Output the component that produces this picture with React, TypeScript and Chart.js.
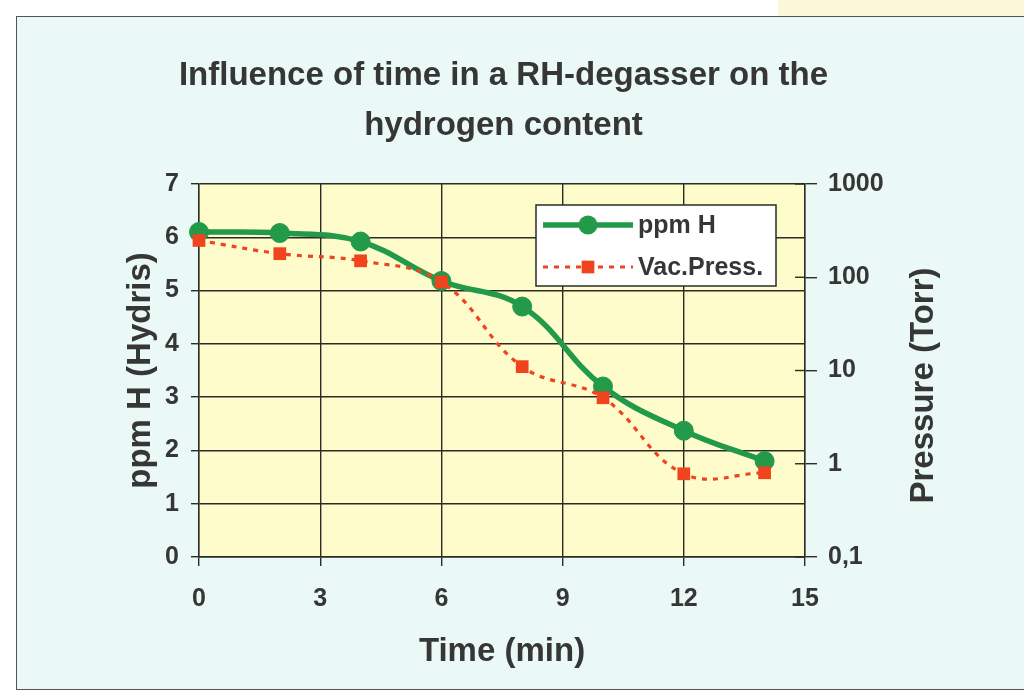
import React, { useEffect, useRef } from 'react';
import { Chart, registerables } from 'chart.js';

Chart.register(...registerables);

// ---- data ----
const CHART_TITLE = ['Influence of time in a RH-degasser on the', 'hydrogen content'];
const X_AXIS_TITLE = 'Time (min)';
const LEFT_AXIS_TITLE = 'ppm H (Hydris)';
const RIGHT_AXIS_TITLE = 'Pressure (Torr)';

const SERIES_NAMES = ['ppm H', 'Vac.Press.'];
const TIME_MIN = [0, 2, 4, 6, 8, 10, 12, 14];
const PPM_H = [6.1, 6.08, 5.92, 5.18, 4.7, 3.2, 2.37, 1.8];
const VAC_PRESS_TORR = [248, 179, 150, 89, 11, 5.1, 0.78, 0.8];

const X_TICKS = [0, 3, 6, 9, 12, 15];
const LEFT_TICKS = [0, 1, 2, 3, 4, 5, 6, 7];
const RIGHT_TICKS = [0.1, 1, 10, 100, 1000];
const RIGHT_TICK_LABELS = ['0,1', '1', '10', '100', '1000'];

// ---- style ----
const FONT = "'Liberation Sans', Arial, sans-serif";
const TEXT = '#363636';
const LINE = '#2b2b27';
const GREEN = '#23994a';
const RED = '#f0441f';
const PLOT_BG = '#fffccb';
const SLIDE_BG = '#eaf8f6';

const plotBgPlugin = {
  id: 'plotBg',
  beforeDraw(chart: any) {
    const { ctx, chartArea: a } = chart;
    ctx.save();
    ctx.fillStyle = PLOT_BG;
    ctx.fillRect(a.left, a.top, a.right - a.left, a.bottom - a.top);
    ctx.restore();
  },
};

const extrasPlugin = {
  id: 'extras',
  beforeDatasetsDraw(chart: any) {
    // inner half of the right-axis tick marks
    const { ctx, chartArea: a } = chart;
    const yR = chart.scales.yR;
    ctx.save();
    ctx.strokeStyle = LINE;
    ctx.lineWidth = 1.4;
    yR.ticks.forEach((t: any) => {
      const y = yR.getPixelForValue(t.value);
      ctx.beginPath();
      ctx.moveTo(a.right - 10, y);
      ctx.lineTo(a.right, y);
      ctx.stroke();
    });
    ctx.restore();
  },
  afterDraw(chart: any) {
    const { ctx, chartArea: a } = chart;
    // right axis title, reading bottom-to-top
    ctx.save();
    ctx.translate(a.right + 119, (a.top + a.bottom) / 2 + 15);
    ctx.rotate(-Math.PI / 2);
    ctx.fillStyle = TEXT;
    ctx.font = `bold 33px ${FONT}`;
    ctx.textAlign = 'center';
    ctx.textBaseline = 'middle';
    ctx.fillText(RIGHT_AXIS_TITLE, 0, 0);
    ctx.restore();

    // legend box inside the plot
    const boxW = 240;
    const boxH = 81;
    const bx = a.right - 29 - boxW;
    const by = a.top + 21;
    ctx.save();
    ctx.fillStyle = '#ffffff';
    ctx.fillRect(bx, by, boxW, boxH);
    ctx.strokeStyle = LINE;
    ctx.lineWidth = 1.5;
    ctx.strokeRect(bx, by, boxW, boxH);
    chart.data.datasets.forEach((ds: any, i: number) => {
      const cy = by + 20 + i * 42;
      ctx.save();
      ctx.strokeStyle = ds.borderColor;
      ctx.lineWidth = ds.borderWidth;
      ctx.setLineDash(ds.borderDash || []);
      ctx.beginPath();
      ctx.moveTo(bx + 7, cy);
      ctx.lineTo(bx + 97, cy);
      ctx.stroke();
      ctx.restore();
      const mx = bx + 52;
      ctx.fillStyle = ds.pointBackgroundColor;
      if (ds.pointStyle === 'rect') {
        const s = ds.pointRadius * Math.SQRT1_2;
        ctx.fillRect(mx - s, cy - s, 2 * s, 2 * s);
      } else {
        ctx.beginPath();
        ctx.arc(mx, cy, ds.pointRadius, 0, Math.PI * 2);
        ctx.fill();
      }
      ctx.fillStyle = TEXT;
      ctx.font = `bold 25px ${FONT}`;
      ctx.textAlign = 'left';
      ctx.textBaseline = 'middle';
      ctx.fillText(ds.label, bx + 102, cy + 1);
    });
    ctx.restore();
  },
};

export default function App() {
  const ref = useRef<HTMLCanvasElement | null>(null);

  useEffect(() => {
    if (!ref.current) return;
    const tickFont = { family: FONT, size: 25, weight: 'bold' as const };
    const titleFont = { family: FONT, size: 33, weight: 'bold' as const };
    const chart = new Chart(ref.current, {
      type: 'line',
      data: {
        datasets: [
          {
            label: SERIES_NAMES[0],
            data: TIME_MIN.map((t, i) => ({ x: t, y: PPM_H[i] })),
            yAxisID: 'yL',
            borderColor: GREEN,
            backgroundColor: GREEN,
            pointBackgroundColor: GREEN,
            pointBorderColor: GREEN,
            borderWidth: 5.5,
            pointStyle: 'circle',
            pointRadius: 9.5,
            pointBorderWidth: 1,
            tension: 0.4,
            clip: false as any,
            order: 2,
          },
          {
            label: SERIES_NAMES[1],
            data: TIME_MIN.map((t, i) => ({ x: t, y: VAC_PRESS_TORR[i] })),
            yAxisID: 'yR',
            borderColor: RED,
            backgroundColor: RED,
            pointBackgroundColor: RED,
            pointBorderColor: RED,
            borderWidth: 3.2,
            borderDash: [5, 6],
            pointStyle: 'rect',
            pointRadius: 9,
            pointBorderWidth: 0,
            tension: 0.4,
            clip: false as any,
            order: 1,
          },
        ],
      },
      options: {
        responsive: false,
        devicePixelRatio: 1,
        animation: false,
        layout: { padding: { left: 0, right: 17, top: 0, bottom: 0 } },
        plugins: {
          legend: { display: false },
          tooltip: { enabled: false },
          title: {
            display: true,
            text: CHART_TITLE,
            color: TEXT,
            font: { ...titleFont, lineHeight: 1.5 },
            padding: { top: 51.25, bottom: 33.75 },
          },
        },
        scales: {
          x: {
            type: 'linear',
            min: X_TICKS[0],
            max: X_TICKS[X_TICKS.length - 1],
            afterBuildTicks: (s: any) => {
              s.ticks = X_TICKS.map((v) => ({ value: v }));
            },
            afterFit: (s: any) => {
              s.height = 136;
            },
            ticks: { color: TEXT, font: tickFont, padding: 18, maxRotation: 0 },
            grid: { color: LINE, lineWidth: 1.4, tickLength: 9, tickColor: LINE },
            border: { display: true, color: LINE, width: 1.4 },
            title: {
              display: true,
              text: X_AXIS_TITLE,
              color: TEXT,
              font: titleFont,
              padding: { top: 0, bottom: 21 },
            },
          },
          yL: {
            type: 'linear',
            position: 'left',
            min: LEFT_TICKS[0],
            max: LEFT_TICKS[LEFT_TICKS.length - 1],
            afterBuildTicks: (s: any) => {
              s.ticks = LEFT_TICKS.map((v) => ({ value: v }));
            },
            afterFit: (s: any) => {
              s.width = 199;
            },
            ticks: { color: TEXT, font: tickFont, padding: 12 },
            grid: { color: LINE, lineWidth: 1.4, tickLength: 8, tickColor: LINE },
            border: { display: true, color: LINE, width: 1.4 },
            title: {
              display: true,
              text: LEFT_AXIS_TITLE,
              color: TEXT,
              font: titleFont,
              padding: { top: 121, bottom: 0 },
            },
          },
          yR: {
            type: 'logarithmic',
            position: 'right',
            min: RIGHT_TICKS[0],
            max: RIGHT_TICKS[RIGHT_TICKS.length - 1],
            afterBuildTicks: (s: any) => {
              s.ticks = RIGHT_TICKS.map((v) => ({ value: v }));
            },
            afterFit: (s: any) => {
              s.width = 202;
            },
            ticks: {
              color: TEXT,
              font: tickFont,
              padding: 11,
              callback: (v: any) => {
                const idx = RIGHT_TICKS.findIndex((t) => Math.abs(Math.log10(t) - Math.log10(Number(v))) < 1e-6);
                return idx >= 0 ? RIGHT_TICK_LABELS[idx] : '';
              },
            },
            grid: { drawOnChartArea: false, color: LINE, lineWidth: 1.4, tickLength: 12, tickColor: LINE },
            border: { display: true, color: LINE, width: 1.4 },
            title: { display: false },
          },
        },
      } as any,
      plugins: [plotBgPlugin, extrasPlugin],
    });
    return () => chart.destroy();
  }, []);

  return (
    <div
      style={{
        position: 'absolute',
        left: 0,
        top: 0,
        width: 1024,
        height: 693,
        overflow: 'hidden',
        background: '#ffffff',
      }}
    >
      <div style={{ position: 'absolute', left: 778, top: 0, width: 246, height: 17, background: '#fcf7d6' }} />
      <div
        style={{
          position: 'absolute',
          left: 16,
          top: 16,
          width: 1040,
          height: 672,
          background: SLIDE_BG,
          borderLeft: '1.5px solid #555',
          borderTop: '1.5px solid #555',
          borderBottom: '1.5px solid #555',
        }}
      />
      <canvas
        ref={ref}
        width={1024}
        height={693}
        style={{ position: 'absolute', left: 0, top: 0, width: 1024, height: 693 }}
      />
    </div>
  );
}
